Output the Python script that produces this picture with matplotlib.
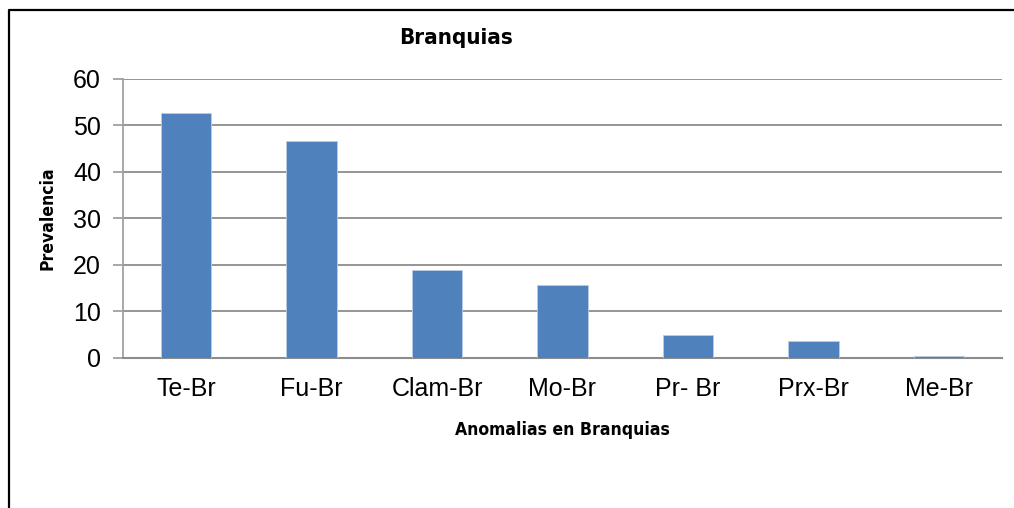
import os
import matplotlib
matplotlib.use("Agg")
import matplotlib.pyplot as plt
from matplotlib import font_manager as fm
from matplotlib.lines import Line2D

categories = ["Te-Br", "Fu-Br", "Clam-Br", "Mo-Br", "Pr- Br", "Prx-Br", "Me-Br"]
prevalencia = [52.7, 46.6, 18.9, 15.6, 4.8, 3.5, 0.4]
yticks = [0, 10, 20, 30, 40, 50, 60]

title_text = "Branquias"
xlabel_text = "Anomalias en Branquias"
ylabel_text = "Prevalencia"

# condensed bold font lookup (closest to the original narrow display font)
cands = [("DejaVuSansCondensed-Bold", 16.0, 12.6),
         ("NotoSans-ExtraCondensedBold", 22, 17),
         ("NotoSans-CondensedBold", 19, 15),
         ("LiberationSansNarrow-Bold", 18, 14)]
files = [f.fname for f in fm.fontManager.ttflist]
try:
    import glob
    files += glob.glob("/usr/share/fonts/**/*.ttf", recursive=True)
except Exception:
    pass
cond_fp, title_size, label_size = None, 16, 12.6
for name, ts, ls in cands:
    for f in files:
        if os.path.splitext(os.path.basename(f))[0] == name:
            cond_fp, title_size, label_size = fm.FontProperties(fname=f), ts, ls
            break
    if cond_fp is not None:
        break
if cond_fp is None:
    cond_fp = fm.FontProperties(family="DejaVu Sans", weight="bold", stretch="condensed")
    title_size, label_size = 14, 11

plt.rcParams["font.family"] = ["Liberation Sans", "DejaVu Sans"]

W, H = 1014, 508
fig = plt.figure(figsize=(W / 100, H / 100), dpi=100)
ax = fig.add_axes([123.3 / W, 1 - 357.7 / H, (1001.7 - 123.3) / W, (357.7 - 79) / H])

x = range(len(categories))
ax.bar(x, prevalencia, width=0.4, color="#4F81BD", edgecolor="#B9CDE5",
       linewidth=0.6, zorder=3)

ax.set_xlim(-0.5, len(categories) - 0.5)
ax.set_ylim(0, 60)
ax.set_yticks(yticks)
ax.set_xticks(list(x))
ax.set_xticklabels(categories)

grid_c = "#8C8C8C"
ax.yaxis.grid(True, color=grid_c, linewidth=1.3, zorder=0)
ax.set_axisbelow(True)
for s in ["top", "right"]:
    ax.spines[s].set_visible(False)
ax.spines["left"].set_color("#A0A0A0")
ax.spines["left"].set_linewidth(1.3)
ax.spines["bottom"].set_color(grid_c)
ax.spines["bottom"].set_linewidth(1.5)
ax.tick_params(axis="y", length=7, width=1.3, color="#A0A0A0", pad=9,
               labelsize=18, labelcolor="black")
ax.tick_params(axis="x", length=0, pad=14, labelsize=18, labelcolor="black")

fig.text(456 / W, 1 - 38 / H, title_text, fontproperties=cond_fp,
         fontsize=title_size, ha="center", va="center")
fig.text(562 / W, 1 - 430 / H, xlabel_text, fontproperties=cond_fp,
         fontsize=label_size, ha="center", va="center")
fig.text(47 / W, 1 - 218 / H, ylabel_text, fontproperties=cond_fp,
         fontsize=label_size, ha="center", va="center", rotation=90)

# outer chart border (left and top edges visible in the crop)
fig.add_artist(Line2D([9 / W, 9 / W, 1.0], [0.0, 1 - 10 / H, 1 - 10 / H],
                      transform=fig.transFigure, color="black", linewidth=1.6))

fig.savefig("out.png", dpi=100)
